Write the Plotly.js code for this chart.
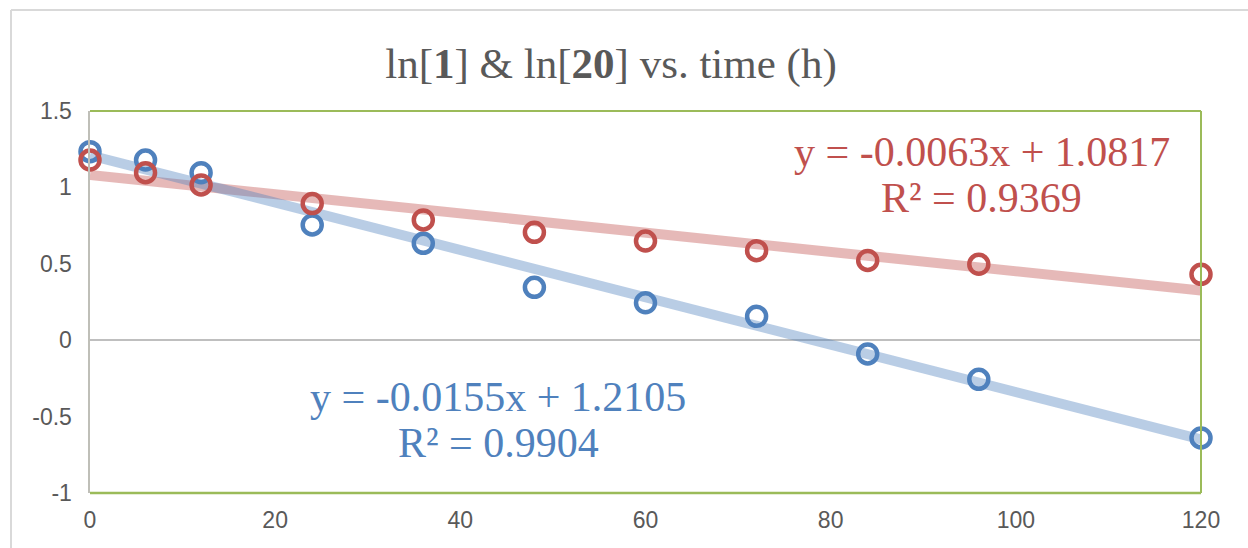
<!DOCTYPE html>
<html><head><meta charset="utf-8">
<script src="https://cdn.plot.ly/plotly-3.0.1.min.js"></script>
<style>body{margin:0;background:#fff}#c{width:1248px;height:548px}</style>
</head><body><div id="c"></div>
<script>
const timeH = [0, 6, 12, 24, 36, 48, 60, 72, 84, 96, 120];
const ln1 = [1.234, 1.179, 1.096, 0.754, 0.634, 0.346, 0.245, 0.156, -0.090, -0.256, -0.640];
const ln20 = [1.179, 1.096, 1.016, 0.894, 0.787, 0.706, 0.649, 0.586, 0.522, 0.497, 0.431];
const trendX = [0, 120];
const trend1 = [1.2105, -0.6495];
const trend20 = [1.0817, 0.3257];
const eq1 = ["y = -0.0155x + 1.2105", "R² = 0.9904"];
const eq20 = ["y = -0.0063x + 1.0817", "R² = 0.9369"];
const xTicks = [0, 20, 40, 60, 80, 100, 120];
const yTicks = [-1, -0.5, 0, 0.5, 1, 1.5];

const blue = '#4f81bd', red = '#c0504d';
const data = [
  {x: trendX, y: trend20, mode: 'lines', line: {color: 'rgba(192,80,77,0.4)', width: 10}, hoverinfo: 'skip', showlegend: false},
  {x: trendX, y: trend1, mode: 'lines', line: {color: 'rgba(79,129,189,0.4)', width: 10}, hoverinfo: 'skip', showlegend: false},
  {x: timeH, y: ln1, mode: 'markers', marker: {symbol: 'circle-open', size: 19, color: blue, line: {color: blue, width: 4.5}}, showlegend: false, cliponaxis: false},
  {x: timeH, y: ln20, mode: 'markers', marker: {symbol: 'circle-open', size: 19, color: red, line: {color: red, width: 4.5}}, showlegend: false, cliponaxis: false}
];
const serif = 'Liberation Serif, Times New Roman, serif';
const sans = 'Liberation Sans, Arial, sans-serif';
const layout = {
  width: 1248, height: 548,
  margin: {l: 90, r: 47, t: 111, b: 55},
  paper_bgcolor: '#fff', plot_bgcolor: '#fff',
  title: {text: 'ln[<b>1</b>] & ln[<b>20</b>] vs. time (h)', font: {family: serif, size: 43, color: '#595959'}, x: 611/1248, xanchor: 'center', xref: 'container', yref: 'container', y: 1 - 63/548, yanchor: 'middle'},
  xaxis: {range: [0, 120], tickvals: xTicks, ticktext: xTicks.map(String), showgrid: false, zeroline: false, showline: false, ticks: '', tickfont: {family: sans, size: 23, color: '#595959'}, ticklabelstandoff: 11},
  yaxis: {range: [-1, 1.5], tickvals: yTicks, ticktext: yTicks.map(String), showgrid: false, zeroline: true, zerolinecolor: '#bfbfbf', zerolinewidth: 1.5, showline: true, linecolor: '#bfbfb8', linewidth: 2.5, ticks: '', tickfont: {family: sans, size: 23, color: '#595959'}, ticklabelstandoff: 11},
  shapes: [
    {type: 'line', xref: 'paper', yref: 'paper', x0: 0, x1: 1, y0: 1, y1: 1, line: {color: '#9bbb59', width: 2}},
    {type: 'line', xref: 'paper', yref: 'paper', x0: 1, x1: 1, y0: 0, y1: 1, line: {color: '#9bbb59', width: 2}},
    {type: 'line', xref: 'paper', yref: 'paper', x0: 0, x1: 1, y0: 0, y1: 0, line: {color: '#9bbb59', width: 2.5}},
    {type: 'line', xref: 'paper', yref: 'paper', x0: -79/1111, x1: 1.2, y0: 1 + 101/382, y1: 1 + 101/382, line: {color: '#d9d9d9', width: 2}},
    {type: 'line', xref: 'paper', yref: 'paper', x0: -79/1111, x1: -79/1111, y0: 1 + 101/382, y1: -0.2, line: {color: '#d9d9d9', width: 2}}
  ],
  annotations: [
    {x: 96.3, y: 1.232, text: eq20[0], showarrow: false, font: {family: serif, size: 42, color: red}},
    {x: 96.3, y: 0.931, text: eq20[1], showarrow: false, font: {family: serif, size: 42, color: red}},
    {x: 44.1, y: -0.372, text: eq1[0], showarrow: false, font: {family: serif, size: 42, color: blue}},
    {x: 44.1, y: -0.673, text: eq1[1], showarrow: false, font: {family: serif, size: 42, color: blue}}
  ]
};
Plotly.newPlot('c', data, layout, {displayModeBar: false, staticPlot: true});
</script></body></html>
